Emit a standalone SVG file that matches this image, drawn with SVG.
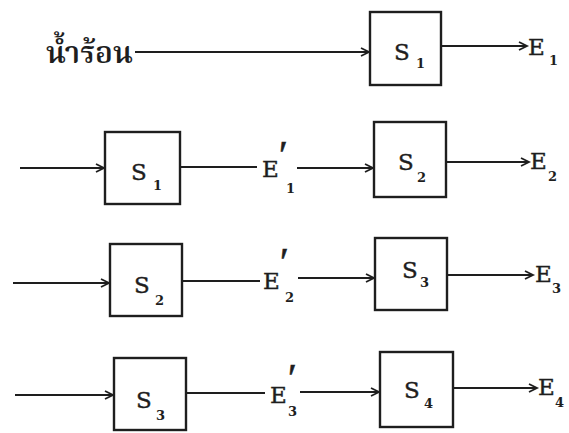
<svg xmlns="http://www.w3.org/2000/svg" width="569" height="433" viewBox="0 0 569 433">
  <style>
    .box { fill: none; stroke: #1e1e1e; stroke-width: 2.4; }
    .wire { fill: none; stroke: #1e1e1e; stroke-width: 1.8; }
    .lbl { font-family: "DejaVu Serif", "Liberation Serif", serif; font-size: 23px; fill: #1e1e1e; stroke: #1e1e1e; stroke-width: 0.4; }
    .sub { font-family: "DejaVu Serif", "Liberation Serif", serif; font-size: 13px; font-weight: bold; fill: #1e1e1e; }
    .prime { font-family: "Liberation Serif", "DejaVu Serif", serif; font-size: 40px; fill: #1e1e1e; stroke: #1e1e1e; stroke-width: 0.6; }
    .thai { font-family: "Noto Serif Thai", "Noto Sans Thai", "Noto Sans", sans-serif; font-size: 30px; font-weight: 600; fill: #1e1e1e; }
  </style>
  <defs>
    <marker id="arrow" markerUnits="userSpaceOnUse" markerWidth="12" markerHeight="12" refX="9" refY="5" orient="auto">
      <path d="M1,1 L9,5 L1,9" fill="none" stroke="#1e1e1e" stroke-width="1.8"/>
    </marker>
  </defs>
  <rect width="569" height="433" fill="#ffffff"/>

  <!-- connectors -->
  <g id="connectors" class="wire">
    <!-- row 1 -->
    <line x1="135" y1="52" x2="369" y2="52" marker-end="url(#arrow)"/>
    <line x1="442" y1="46" x2="527" y2="46" marker-end="url(#arrow)"/>
    <!-- row 2 -->
    <line x1="20" y1="168" x2="104" y2="168" marker-end="url(#arrow)"/>
    <line x1="181" y1="167" x2="257" y2="167"/>
    <line x1="297" y1="168" x2="373" y2="168" marker-end="url(#arrow)"/>
    <line x1="447" y1="162" x2="529" y2="162" marker-end="url(#arrow)"/>
    <!-- row 3 -->
    <line x1="13" y1="283" x2="109" y2="283" marker-end="url(#arrow)"/>
    <line x1="183" y1="281" x2="260" y2="281"/>
    <line x1="298" y1="278" x2="374" y2="278" marker-end="url(#arrow)"/>
    <line x1="448" y1="275" x2="533" y2="275" marker-end="url(#arrow)"/>
    <!-- row 4 -->
    <line x1="15" y1="395" x2="113" y2="395" marker-end="url(#arrow)"/>
    <line x1="187" y1="393" x2="265" y2="393"/>
    <line x1="300" y1="392" x2="379" y2="392" marker-end="url(#arrow)"/>
    <line x1="454" y1="388" x2="537" y2="388" marker-end="url(#arrow)"/>
  </g>

  <!-- row 1 -->
  <g id="hot-water">
    <text class="thai" x="46" y="63">น้ำร้อน</text>
  </g>
  <g id="r1-s1">
    <rect class="box" x="370" y="12" width="71" height="73"/>
    <text class="lbl" x="394" y="60">S</text>
    <text class="sub" x="416" y="68">1</text>
  </g>
  <g id="r1-e1">
    <text class="lbl" x="528" y="55">E</text>
    <text class="sub" x="549" y="65">1</text>
  </g>

  <!-- row 2 -->
  <g id="r2-s1">
    <rect class="box" x="105" y="132" width="75" height="72"/>
    <text class="lbl" x="131" y="180">S</text>
    <text class="sub" x="153" y="190">1</text>
  </g>
  <g id="r2-e1p">
    <text class="lbl" x="262" y="177">E</text>
    <text class="prime" x="279" y="168">′</text>
    <text class="sub" x="286" y="193">1</text>
  </g>
  <g id="r2-s2">
    <rect class="box" x="374" y="122" width="72" height="75"/>
    <text class="lbl" x="398" y="170">S</text>
    <text class="sub" x="417" y="182">2</text>
  </g>
  <g id="r2-e2">
    <text class="lbl" x="530" y="169">E</text>
    <text class="sub" x="548" y="181">2</text>
  </g>

  <!-- row 3 -->
  <g id="r3-s2">
    <rect class="box" x="110" y="244" width="72" height="72"/>
    <text class="lbl" x="134" y="293">S</text>
    <text class="sub" x="155" y="305">2</text>
  </g>
  <g id="r3-e2p">
    <text class="lbl" x="263" y="289">E</text>
    <text class="prime" x="280" y="275">′</text>
    <text class="sub" x="285" y="302">2</text>
  </g>
  <g id="r3-s3">
    <rect class="box" x="375" y="238" width="72" height="72"/>
    <text class="lbl" x="402" y="278">S</text>
    <text class="sub" x="420" y="287">3</text>
  </g>
  <g id="r3-e3">
    <text class="lbl" x="535" y="282">E</text>
    <text class="sub" x="552" y="293">3</text>
  </g>

  <!-- row 4 -->
  <g id="r4-s3">
    <rect class="box" x="114" y="358" width="72" height="72"/>
    <text class="lbl" x="136" y="408">S</text>
    <text class="sub" x="156" y="420">3</text>
  </g>
  <g id="r4-e3p">
    <text class="lbl" x="270" y="403">E</text>
    <text class="prime" x="288" y="391">′</text>
    <text class="sub" x="288" y="416">3</text>
  </g>
  <g id="r4-s4">
    <rect class="box" x="380" y="352" width="73" height="75"/>
    <text class="lbl" x="404" y="398">S</text>
    <text class="sub" x="424" y="408">4</text>
  </g>
  <g id="r4-e4">
    <text class="lbl" x="538" y="395">E</text>
    <text class="sub" x="555" y="407">4</text>
  </g>
</svg>
